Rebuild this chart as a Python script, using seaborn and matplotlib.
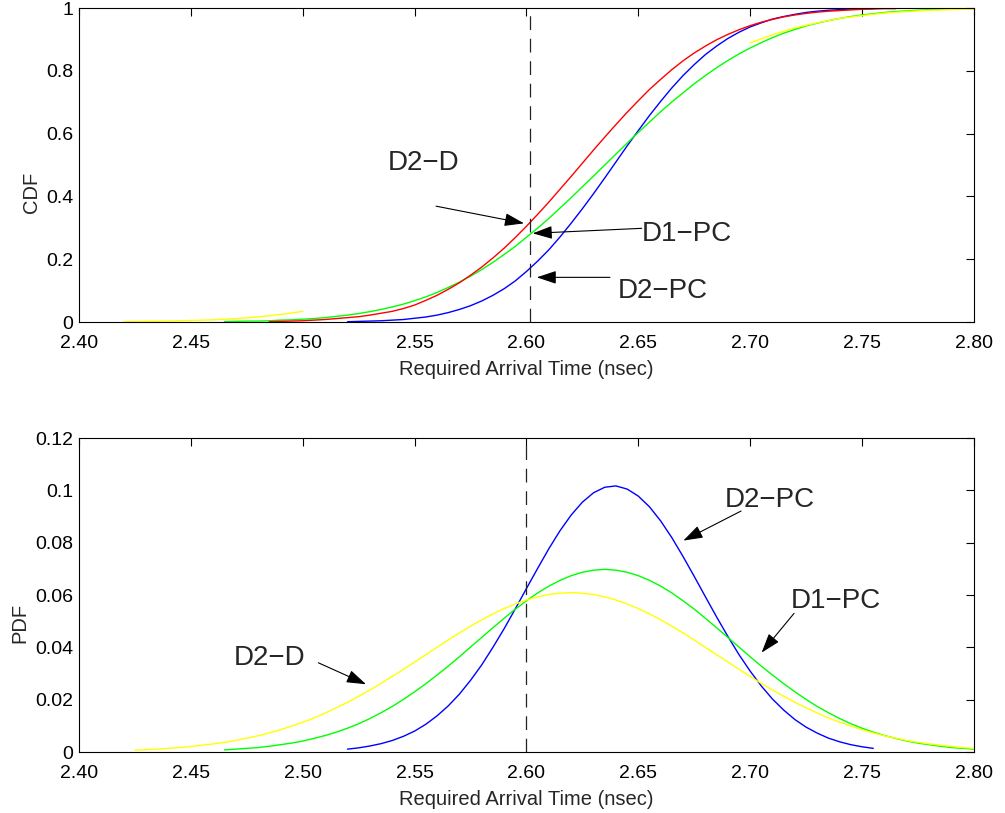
import numpy as np
import pandas as pd
import matplotlib
matplotlib.use("Agg")
import matplotlib.pyplot as plt
import seaborn as sns

# values
FINE_STEP = 0.005
COARSE_STEP = 0.01

# top panel: cumulative distributions (sampled every 0.005 ns, tails every 0.01 ns)
red_cdf_start = 2.485
red_cdf = [0.001, 0.002, 0.003, 0.004, 0.006, 0.008, 0.011, 0.014, 0.017, 0.022,
           0.028, 0.034, 0.043, 0.054, 0.069, 0.085, 0.104, 0.125, 0.149, 0.175,
           0.204, 0.235, 0.269, 0.305, 0.343, 0.382, 0.423, 0.464, 0.506, 0.548,
           0.589, 0.629, 0.668, 0.705, 0.741, 0.773, 0.804, 0.832, 0.857, 0.879,
           0.899, 0.916, 0.931, 0.944, 0.955, 0.964, 0.972, 0.978, 0.983, 0.987,
           0.990, 0.992, 0.994, 0.996, 0.997, 0.998, 0.998]
blue_cdf_start = 2.52
blue_cdf = [0.001, 0.002, 0.003, 0.004, 0.006, 0.008, 0.012, 0.016, 0.022, 0.030,
            0.040, 0.052, 0.067, 0.085, 0.106, 0.131, 0.161, 0.194, 0.230, 0.271,
            0.315, 0.361, 0.409, 0.459, 0.510, 0.561, 0.610, 0.658, 0.703, 0.746,
            0.785, 0.820, 0.852, 0.879, 0.903, 0.923, 0.940, 0.953, 0.965, 0.973,
            0.980, 0.986, 0.990, 0.993, 0.995, 0.997, 0.998, 0.998]
green_cdf_start = 2.465
green_cdf = [0.001, 0.002, 0.003, 0.003, 0.004, 0.006, 0.007, 0.009, 0.011, 0.014,
             0.018, 0.022, 0.027, 0.033, 0.040, 0.048, 0.057, 0.068, 0.080, 0.094,
             0.110, 0.127, 0.146, 0.167, 0.190, 0.215, 0.241, 0.270, 0.299, 0.330,
             0.363, 0.396, 0.431, 0.465, 0.500, 0.535, 0.570, 0.604, 0.637, 0.670,
             0.701, 0.730, 0.759, 0.785, 0.810, 0.833, 0.854, 0.873, 0.890, 0.906,
             0.920, 0.932, 0.943, 0.952, 0.960, 0.967, 0.973, 0.978, 0.982, 0.986,
             0.989, 0.991, 0.993, 0.995, 0.996, 0.997, 0.998, 0.998]
yellow_cdf_low_start = 2.42
yellow_cdf_low = [0.001, 0.002, 0.003, 0.005, 0.007, 0.011, 0.016, 0.024, 0.034]
yellow_cdf_high_start = 2.70
yellow_cdf_high = [0.889, 0.915, 0.937, 0.953, 0.967, 0.976, 0.984, 0.989, 0.993,
                   0.995, 0.997]

# bottom panel: densities (sampled every 0.005 ns)
blue_pdf_start = 2.52
blue_pdf = [0.0011, 0.0016, 0.0023, 0.0032, 0.0044, 0.0060, 0.0080, 0.0106, 0.0138, 0.0176,
            0.0221, 0.0274, 0.0333, 0.0400, 0.0471, 0.0547, 0.0625, 0.0702, 0.0777, 0.0846,
            0.0906, 0.0955, 0.0991, 0.1012, 0.1017, 0.1005, 0.0978, 0.0937, 0.0883, 0.0819,
            0.0747, 0.0671, 0.0593, 0.0516, 0.0442, 0.0372, 0.0309, 0.0252, 0.0202, 0.0160,
            0.0124, 0.0095, 0.0072, 0.0053, 0.0039, 0.0028, 0.0020, 0.0014]
green_pdf_start = 2.465
green_pdf = [0.0008, 0.0011, 0.0014, 0.0017, 0.0022, 0.0028, 0.0034, 0.0042, 0.0052, 0.0063,
             0.0076, 0.0091, 0.0108, 0.0128, 0.0150, 0.0174, 0.0201, 0.0230, 0.0261, 0.0294,
             0.0328, 0.0364, 0.0401, 0.0438, 0.0475, 0.0511, 0.0546, 0.0578, 0.0608, 0.0634,
             0.0656, 0.0674, 0.0687, 0.0695, 0.0698, 0.0695, 0.0687, 0.0674, 0.0656, 0.0634,
             0.0608, 0.0578, 0.0546, 0.0511, 0.0475, 0.0438, 0.0401, 0.0364, 0.0328, 0.0294,
             0.0261, 0.0230, 0.0201, 0.0174, 0.0150, 0.0128, 0.0108, 0.0091, 0.0076, 0.0063,
             0.0052, 0.0042, 0.0034, 0.0028, 0.0022, 0.0017, 0.0014, 0.0011]
yellow_pdf_start = 2.425
yellow_pdf = [0.0007, 0.0009, 0.0011, 0.0014, 0.0017, 0.0021, 0.0026, 0.0031, 0.0037, 0.0044,
              0.0053, 0.0062, 0.0073, 0.0085, 0.0099, 0.0114, 0.0130, 0.0149, 0.0169, 0.0190,
              0.0213, 0.0237, 0.0262, 0.0289, 0.0316, 0.0344, 0.0372, 0.0400, 0.0428, 0.0455,
              0.0481, 0.0505, 0.0528, 0.0548, 0.0566, 0.0581, 0.0593, 0.0602, 0.0607, 0.0609,
              0.0607, 0.0602, 0.0593, 0.0581, 0.0566, 0.0548, 0.0528, 0.0505, 0.0481, 0.0455,
              0.0428, 0.0400, 0.0372, 0.0344, 0.0316, 0.0289, 0.0262, 0.0237, 0.0213, 0.0190,
              0.0169, 0.0149, 0.0130, 0.0114, 0.0099, 0.0085, 0.0073, 0.0062, 0.0053, 0.0044,
              0.0037, 0.0031, 0.0026, 0.0021, 0.0017, 0.0014]

x_ticks = [2.40, 2.45, 2.50, 2.55, 2.60, 2.65, 2.70, 2.75, 2.80]
cdf_ticks = [0, 0.2, 0.4, 0.6, 0.8, 1.0]
cdf_tick_labels = ["0", "0.2", "0.4", "0.6", "0.8", "1"]
pdf_ticks = [0, 0.02, 0.04, 0.06, 0.08, 0.10, 0.12]
pdf_tick_labels = ["0", "0.02", "0.04", "0.06", "0.08", "0.1", "0.12"]
cdf_cutoff = 2.6015
pdf_cutoff = 2.600

COLORS = {"blue": "#0000ff", "green": "#00ff00", "yellow": "#ffff00",
          "yellow_hi": "#ffff00", "red": "#ff0000"}


def to_frame(start, step, values, name):
    t = start + step * np.arange(len(values))
    return pd.DataFrame({"t": t, "p": values, "curve": name})


cdf_df = pd.concat([
    to_frame(blue_cdf_start, FINE_STEP, blue_cdf, "blue"),
    to_frame(green_cdf_start, FINE_STEP, green_cdf, "green"),
    to_frame(yellow_cdf_low_start, COARSE_STEP, yellow_cdf_low, "yellow"),
    to_frame(yellow_cdf_high_start, COARSE_STEP, yellow_cdf_high, "yellow_hi"),
    to_frame(red_cdf_start, FINE_STEP, red_cdf, "red"),
], ignore_index=True)

pdf_df = pd.concat([
    to_frame(blue_pdf_start, FINE_STEP, blue_pdf, "blue"),
    to_frame(green_pdf_start, FINE_STEP, green_pdf, "green"),
    to_frame(yellow_pdf_start, FINE_STEP, yellow_pdf, "yellow"),
], ignore_index=True)

sns.set_theme(style="white")
plt.rcParams["font.family"] = ["Liberation Sans", "DejaVu Sans"]
plt.rcParams["axes.unicode_minus"] = True

fig = plt.figure(figsize=(10.05, 8.13), dpi=100)
ax_cdf = fig.add_axes([0.0786, 0.6039, 0.8905, 0.3862])
ax_pdf = fig.add_axes([0.0786, 0.0750, 0.8905, 0.3862])

sns.lineplot(data=cdf_df, x="t", y="p", hue="curve",
             hue_order=["blue", "green", "yellow", "yellow_hi", "red"],
             palette=COLORS, sort=False, estimator=None, linewidth=1.0,
             legend=False, ax=ax_cdf)
sns.lineplot(data=pdf_df, x="t", y="p", hue="curve",
             hue_order=["blue", "green", "yellow"],
             palette=COLORS, sort=False, estimator=None, linewidth=1.0,
             legend=False, ax=ax_pdf)

ax_cdf.axvline(cdf_cutoff, color="#222222", lw=0.9, ls=(0, (11, 7)))
ax_pdf.axvline(pdf_cutoff, color="#222222", lw=0.9, ls=(0, (11, 7)))

arrow = dict(arrowstyle="-|>,head_length=0.6,head_width=0.2", mutation_scale=20,
             lw=0.8, color="black", shrinkA=0, shrinkB=0)


def callout(ax, text, pos, tip, tail):
    ax.text(pos[0], pos[1], text, fontsize=20, ha="left", va="baseline")
    ax.annotate("", xy=tip, xytext=tail, arrowprops=arrow)


callout(ax_cdf, "D2\u2212D", (2.538, 0.484), (2.5989, 0.3143), (2.5596, 0.369))
callout(ax_cdf, "D1\u2212PC", (2.6515, 0.259), (2.6028, 0.2825), (2.6515, 0.2984))
callout(ax_cdf, "D2\u2212PC", (2.6408, 0.0774), (2.6046, 0.1423), (2.6373, 0.1423))

callout(ax_pdf, "D2\u2212D", (2.4692, 0.03325), (2.5283, 0.0259), (2.507, 0.0341))
callout(ax_pdf, "D2\u2212PC", (2.6887, 0.09374), (2.6701, 0.0808), (2.6959, 0.0921))
callout(ax_pdf, "D1\u2212PC", (2.7182, 0.0549), (2.7051, 0.0380), (2.7196, 0.0530))

for ax, ticks, labels, lim, name, lab_x in [
        (ax_cdf, cdf_ticks, cdf_tick_labels, (0, 1), "CDF", -0.043),
        (ax_pdf, pdf_ticks, pdf_tick_labels, (0, 0.12), "PDF", -0.056)]:
    ax.set_xlim(2.40, 2.80)
    ax.set_ylim(*lim)
    ax.set_xticks(x_ticks)
    ax.set_xticklabels([f"{v:.2f}" for v in x_ticks])
    ax.set_yticks(ticks)
    ax.set_yticklabels(labels)
    ax.tick_params(direction="in", top=True, right=True, length=6, width=0.8,
                   labelsize=14, color="black", labelcolor="black")
    ax.tick_params(axis="x", pad=9)
    ax.tick_params(axis="y", pad=4)
    for side in ax.spines.values():
        side.set_visible(True)
        side.set_color("black")
        side.set_linewidth(0.8)
    ax.set_xlabel("Required Arrival Time (nsec)", fontsize=14.5, labelpad=6)
    ax.set_ylabel(name, fontsize=14.5)
    ax.yaxis.set_label_coords(lab_x, 0.412)
    ax.set_facecolor("white")

fig.savefig("out.png", dpi=100, facecolor="white")
